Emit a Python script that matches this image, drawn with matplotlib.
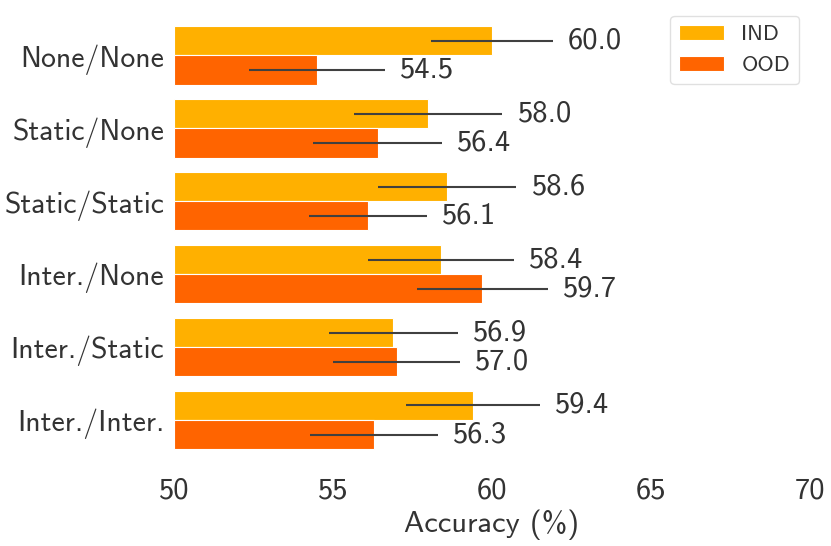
import numpy as np
import matplotlib
matplotlib.use("Agg")
import matplotlib.pyplot as plt

# settings (curriculum / sampling) and accuracies
settings = ["None/None", "Static/None", "Static/Static",
            "Inter./None", "Inter./Static", "Inter./Inter."]
ind_acc = [60.0, 58.0, 58.6, 58.4, 56.9, 59.4]
ood_acc = [54.5, 56.4, 56.1, 59.7, 57.0, 56.3]
ind_err = [1.92, 2.33, 2.17, 2.30, 2.02, 2.12]
ood_err = [2.13, 2.02, 1.85, 2.05, 2.00, 2.01]

plt.rcParams['font.family'] = ['cmss10', 'DejaVu Sans']
plt.rcParams['axes.unicode_minus'] = False
plt.rcParams['mathtext.fontset'] = 'cm'

fig = plt.figure(figsize=(8.31, 5.46), dpi=100)
ax = fig.add_axes([174/831, 1-456.5/546, (810-174)/831, (456.5-19)/546])

y = np.arange(len(settings))
h = 0.4
txt = '#333333'

ax.barh(y - h/2, np.array(ind_acc) - 50, height=h, left=50, color='#FFB000',
        edgecolor='white', linewidth=0.8, label='IND')
ax.barh(y + h/2, np.array(ood_acc) - 50, height=h, left=50, color='#FF6400',
        edgecolor='white', linewidth=0.8, label='OOD')

ax.errorbar(ind_acc, y - h/2, xerr=ind_err, fmt='none', ecolor='#404040', elinewidth=1.5, capsize=0)
ax.errorbar(ood_acc, y + h/2, xerr=ood_err, fmt='none', ecolor='#404040', elinewidth=1.5, capsize=0)

for i in range(len(settings)):
    ax.text(ind_acc[i] + ind_err[i] + 0.47, y[i] - h/2, f"{ind_acc[i]:.1f}",
            ha='left', va='center', fontsize=22, color=txt)
    ax.text(ood_acc[i] + ood_err[i] + 0.47, y[i] + h/2, f"{ood_acc[i]:.1f}",
            ha='left', va='center', fontsize=22, color=txt)

ax.set_xlim(50, 70)
ax.set_ylim(len(settings) - 0.5, -0.5)
ax.set_yticks(y)
ax.set_yticklabels(settings)
ax.set_xticks([50, 55, 60, 65, 70])
ax.tick_params(axis='x', length=0, pad=15, labelsize=22, labelcolor=txt)
ax.tick_params(axis='y', length=0, pad=7, labelsize=21.4, labelcolor=txt)
ax.set_xlabel('Accuracy (%)', fontsize=22, color=txt, labelpad=4)
for s in ax.spines.values():
    s.set_visible(False)

leg = fig.legend(loc='upper right', bbox_to_anchor=(799/831, 1-16/546),
                 borderaxespad=0, fontsize=16, frameon=True, fancybox=True)
leg.get_frame().set_edgecolor('#d9d9d9')
for t in leg.get_texts():
    t.set_color(txt)

fig.savefig('out.png', dpi=100)
